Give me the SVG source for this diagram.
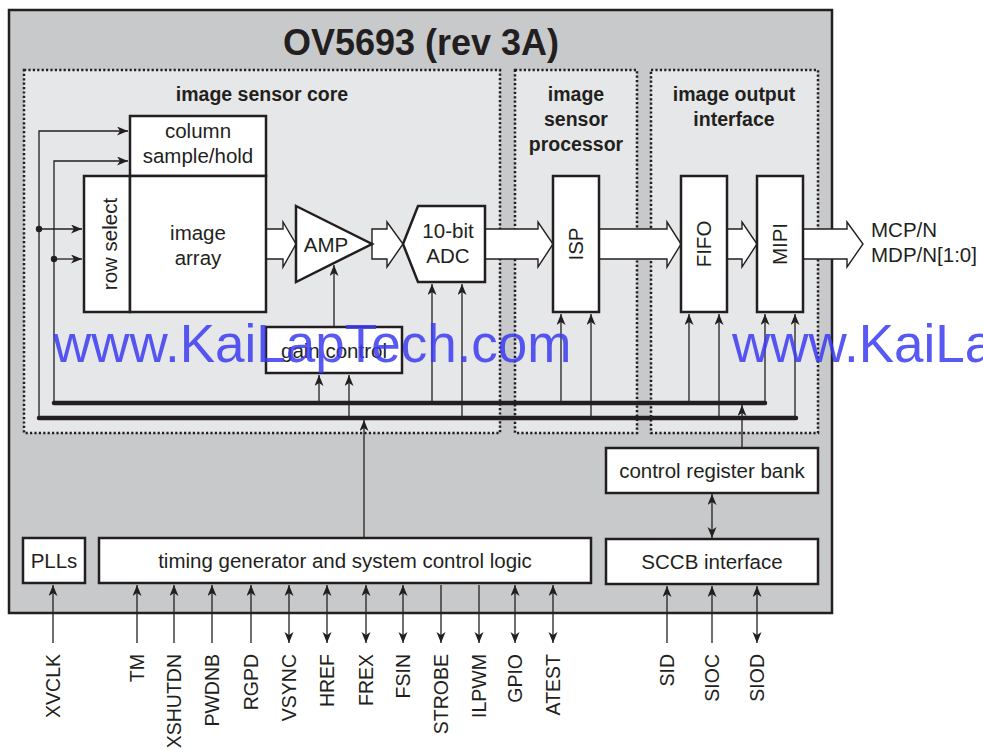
<svg xmlns="http://www.w3.org/2000/svg" width="983" height="750" viewBox="0 0 983 750">
<defs>
<style>
.t{font-family:"Liberation Sans",Arial,sans-serif;fill:#231f20;font-size:20.5px}
.b{font-family:"Liberation Sans",Arial,sans-serif;fill:#231f20;font-size:19.5px;font-weight:bold;text-anchor:middle}
.m{text-anchor:middle}
.box{fill:#fff;stroke:#231f20;stroke-width:2.5}
.dot{fill:#e6e7e8;stroke:#231f20;stroke-width:2.5;stroke-dasharray:2.2 2.2}
.ln{fill:none;stroke:#231f20;stroke-width:1.3}
.bus{fill:none;stroke:#231f20;stroke-width:4.5;stroke-linecap:round}
.fat{fill:#fff;stroke:#231f20;stroke-width:1.4;stroke-linejoin:miter}
.pin{font-family:"Liberation Sans",Arial,sans-serif;fill:#231f20;font-size:19.5px;text-anchor:end}
</style>
<marker id="ah" markerUnits="userSpaceOnUse" markerWidth="12" markerHeight="10" refX="11" refY="4.5" orient="auto-start-reverse" viewBox="0 0 12 10">
<path d="M0,0 L11,4.5 L0,9 L3,4.5 z" fill="#231f20"/>
</marker>
</defs>

<g id="chip">
<rect x="9" y="10" width="823" height="603" fill="#c8c9cb" stroke="#231f20" stroke-width="2.5"/>
<text class="b" x="421" y="55" style="font-size:36px">OV5693 (rev 3A)</text>
</g>

<g id="image-sensor-core">
<rect class="dot" x="24" y="70" width="476" height="363"/>
<text class="b" x="262" y="101">image sensor core</text>
</g>
<g id="image-sensor-processor">
<rect class="dot" x="515" y="70" width="122" height="363"/>
<text class="b" x="576" y="101">image</text>
<text class="b" x="576" y="126">sensor</text>
<text class="b" x="576" y="151">processor</text>
</g>
<g id="image-output-interface">
<rect class="dot" x="651" y="70" width="167" height="363"/>
<text class="b" x="734" y="101">image output</text>
<text class="b" x="734" y="126">interface</text>
</g>

<g id="connectors">
<polyline class="ln" points="39,418 39,131 128,131" marker-end="url(#ah)"/>
<polyline class="ln" points="54,403 54,161 128,161" marker-end="url(#ah)"/>
<line class="ln" x1="39" y1="229" x2="82" y2="229" marker-end="url(#ah)"/>
<line class="ln" x1="54" y1="259" x2="82" y2="259" marker-end="url(#ah)"/>
<circle cx="39" cy="229" r="3.2" fill="#231f20"/>
<circle cx="54" cy="259" r="3.2" fill="#231f20"/>
<line class="ln" x1="334" y1="327" x2="334" y2="265" marker-end="url(#ah)"/>
<line class="ln" x1="319" y1="403" x2="319" y2="375" marker-end="url(#ah)"/>
<line class="ln" x1="349" y1="418" x2="349" y2="375" marker-end="url(#ah)"/>
<line class="ln" x1="432" y1="403" x2="432" y2="284" marker-end="url(#ah)"/>
<line class="ln" x1="462" y1="418" x2="462" y2="284" marker-end="url(#ah)"/>
<line class="ln" x1="561" y1="403" x2="561" y2="314" marker-end="url(#ah)"/>
<line class="ln" x1="591" y1="418" x2="591" y2="314" marker-end="url(#ah)"/>
<line class="ln" x1="689" y1="403" x2="689" y2="314" marker-end="url(#ah)"/>
<line class="ln" x1="719" y1="418" x2="719" y2="314" marker-end="url(#ah)"/>
<line class="ln" x1="765" y1="403" x2="765" y2="314" marker-end="url(#ah)"/>
<line class="ln" x1="795" y1="418" x2="795" y2="314" marker-end="url(#ah)"/>
<line class="ln" x1="364" y1="538" x2="364" y2="420" marker-end="url(#ah)"/>
<line class="ln" x1="742" y1="448" x2="742" y2="405" marker-end="url(#ah)"/>
<line class="ln" x1="712" y1="494" x2="712" y2="538" marker-start="url(#ah)" marker-end="url(#ah)"/>
<line class="bus" x1="54" y1="403" x2="765" y2="403"/>
<line class="bus" x1="39" y1="418" x2="796" y2="418"/>
<polygon class="fat" points="266,229 283,229 283,222 296,244 283,267 283,259 266,259"/>
<polygon class="fat" points="372,229 387,229 387,222 403,244 387,267 387,259 372,259"/>
<polygon class="fat" points="485,229 538,229 538,222 553,244 538,267 538,259 485,259"/>
<polygon class="fat" points="599,229 667,229 667,222 681,244 667,267 667,259 599,259"/>
<polygon class="fat" points="727,229 742,229 742,222 757,244 742,267 742,259 727,259"/>
<polygon class="fat" points="803,229 847,229 847,222 863,244 847,267 847,259 803,259"/>
<line class="ln" x1="53" y1="643" x2="53" y2="585" marker-end="url(#ah)"/>
<line class="ln" x1="137" y1="643" x2="137" y2="585" marker-end="url(#ah)"/>
<line class="ln" x1="174" y1="643" x2="174" y2="585" marker-end="url(#ah)"/>
<line class="ln" x1="212" y1="643" x2="212" y2="585" marker-end="url(#ah)"/>
<line class="ln" x1="251" y1="643" x2="251" y2="585" marker-end="url(#ah)"/>
<line class="ln" x1="289" y1="643" x2="289" y2="585" marker-start="url(#ah)" marker-end="url(#ah)"/>
<line class="ln" x1="327" y1="643" x2="327" y2="585" marker-start="url(#ah)" marker-end="url(#ah)"/>
<line class="ln" x1="366" y1="643" x2="366" y2="585" marker-start="url(#ah)" marker-end="url(#ah)"/>
<line class="ln" x1="403" y1="643" x2="403" y2="585" marker-start="url(#ah)" marker-end="url(#ah)"/>
<line class="ln" x1="441" y1="585" x2="441" y2="643" marker-end="url(#ah)"/>
<line class="ln" x1="479" y1="585" x2="479" y2="643" marker-end="url(#ah)"/>
<line class="ln" x1="515" y1="643" x2="515" y2="585" marker-start="url(#ah)" marker-end="url(#ah)"/>
<line class="ln" x1="553" y1="643" x2="553" y2="585" marker-start="url(#ah)" marker-end="url(#ah)"/>
<line class="ln" x1="667" y1="643" x2="667" y2="586" marker-end="url(#ah)"/>
<line class="ln" x1="712" y1="643" x2="712" y2="586" marker-end="url(#ah)"/>
<line class="ln" x1="757" y1="643" x2="757" y2="586" marker-start="url(#ah)" marker-end="url(#ah)"/>
</g>

<g id="column-sample-hold">
<rect class="box" x="130" y="116" width="136" height="60"/>
<text class="t m" x="198" y="138">column</text>
<text class="t m" x="198" y="163">sample/hold</text>
</g>
<g id="row-select">
<rect class="box" x="84" y="176" width="46" height="136"/>
<text class="t m" transform="translate(117,244) rotate(-90)">row select</text>
</g>
<g id="image-array">
<rect class="box" x="130" y="176" width="136" height="136"/>
<text class="t m" x="198" y="240">image</text>
<text class="t m" x="198" y="265">array</text>
</g>
<g id="amp">
<polygon class="box" points="296,206 372,244 296,282"/>
<text class="t m" x="326" y="252">AMP</text>
</g>
<g id="adc">
<polygon class="box" points="403,244 418,206 485,206 485,282 418,282"/>
<text class="t m" x="448" y="238">10-bit</text>
<text class="t m" x="448" y="263">ADC</text>
</g>
<g id="gain-control">
<rect class="box" x="266" y="327" width="136" height="46"/>
<text class="t m" x="334" y="358">gain control</text>
</g>
<g id="isp">
<rect class="box" x="553" y="176" width="46" height="136"/>
<text class="t m" transform="translate(583,244) rotate(-90)">ISP</text>
</g>
<g id="fifo">
<rect class="box" x="681" y="176" width="46" height="136"/>
<text class="t m" transform="translate(711,244) rotate(-90)">FIFO</text>
</g>
<g id="mipi">
<rect class="box" x="757" y="176" width="46" height="136"/>
<text class="t m" transform="translate(787,244) rotate(-90)">MIPI</text>
</g>
<g id="output-labels">
<text class="t" x="871" y="237">MCP/N</text>
<text class="t" x="871" y="262">MDP/N[1:0]</text>
</g>
<g id="control-register-bank">
<rect class="box" x="606" y="448" width="212" height="45"/>
<text class="t m" x="712" y="478">control register bank</text>
</g>
<g id="sccb-interface">
<rect class="box" x="606" y="539" width="212" height="45"/>
<text class="t m" x="712" y="569">SCCB interface</text>
</g>
<g id="plls">
<rect class="box" x="23" y="538" width="62" height="45"/>
<text class="t m" x="54" y="568">PLLs</text>
</g>
<g id="timing-generator">
<rect class="box" x="99" y="538" width="492" height="45"/>
<text class="t m" x="345" y="568">timing generator and system control logic</text>
</g>

<g id="pin-labels">
<text class="pin" transform="translate(60,654) rotate(-90)">XVCLK</text>
<text class="pin" transform="translate(144,654) rotate(-90)">TM</text>
<text class="pin" transform="translate(181,654) rotate(-90)">XSHUTDN</text>
<text class="pin" transform="translate(219,654) rotate(-90)">PWDNB</text>
<text class="pin" transform="translate(258,654) rotate(-90)">RGPD</text>
<text class="pin" transform="translate(296,654) rotate(-90)">VSYNC</text>
<text class="pin" transform="translate(334,654) rotate(-90)">HREF</text>
<text class="pin" transform="translate(373,654) rotate(-90)">FREX</text>
<text class="pin" transform="translate(410,654) rotate(-90)">FSIN</text>
<text class="pin" transform="translate(448,654) rotate(-90)">STROBE</text>
<text class="pin" transform="translate(486,654) rotate(-90)">ILPWM</text>
<text class="pin" transform="translate(522,654) rotate(-90)">GPIO</text>
<text class="pin" transform="translate(560,654) rotate(-90)">ATEST</text>
<text class="pin" transform="translate(674,654) rotate(-90)">SID</text>
<text class="pin" transform="translate(719,654) rotate(-90)">SIOC</text>
<text class="pin" transform="translate(764,654) rotate(-90)">SIOD</text>
</g>

<g id="watermark" style="font-family:'Liberation Sans',Arial,sans-serif;font-size:53px;fill:#3b3bf2;opacity:0.85">
<text x="53" y="362">www.KaiLapTech.com</text>
<text x="732" y="362">www.KaiLa</text>
</g>
</svg>
